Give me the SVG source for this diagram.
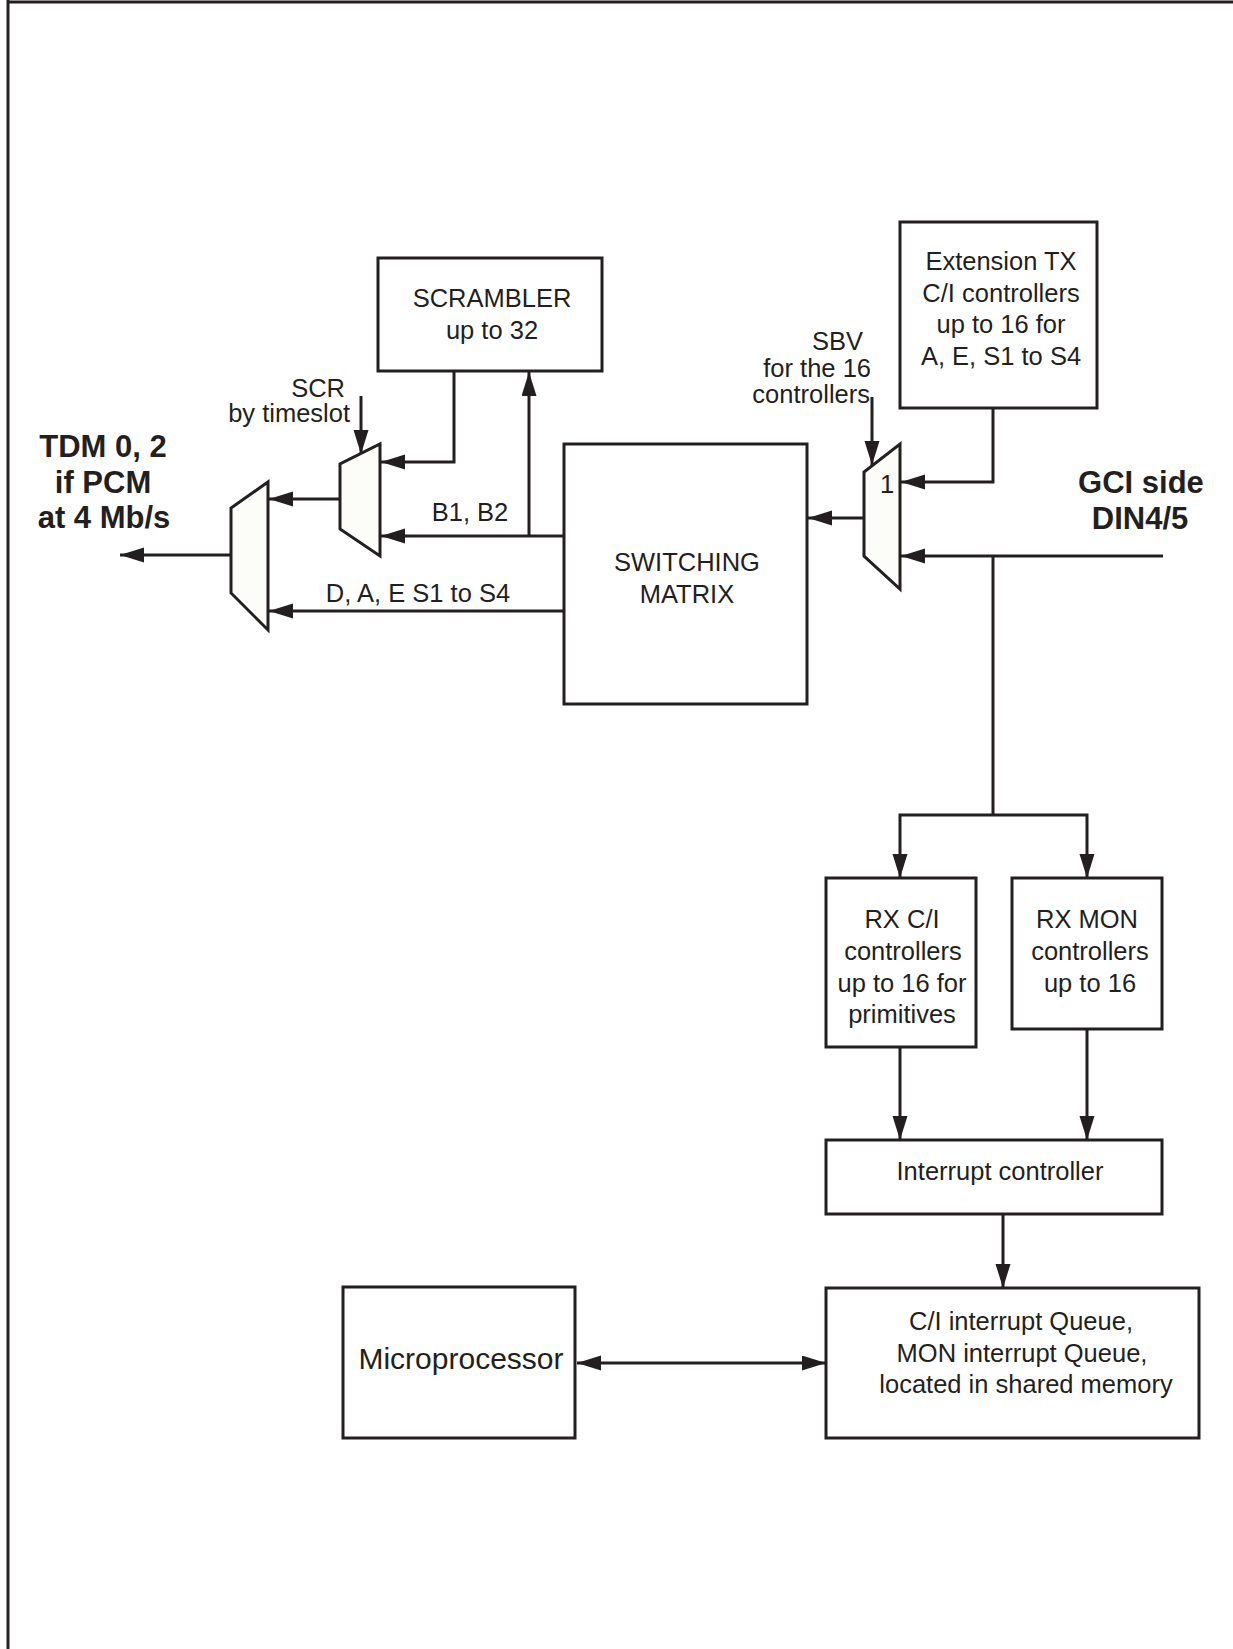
<svg xmlns="http://www.w3.org/2000/svg" width="1233" height="1649" viewBox="0 0 1233 1649">
<defs>
<style>
.box{fill:#fff;stroke:#231f20;stroke-width:3}
.mux{fill:#fcfcf9;stroke:#231f20;stroke-width:3;stroke-linejoin:miter}
.ln{fill:none;stroke:#231f20;stroke-width:3}
.ar{fill:none;stroke:#231f20;stroke-width:3;marker-end:url(#ah)}
.t{font-family:"Liberation Sans",Arial,sans-serif;font-size:25.5px;fill:#231f20;text-anchor:middle}
.b{font-family:"Liberation Sans",Arial,sans-serif;font-size:31px;font-weight:bold;fill:#231f20;text-anchor:middle}
</style>
<marker id="ah" markerUnits="userSpaceOnUse" markerWidth="26" markerHeight="16" refX="24" refY="7.5" orient="auto-start-reverse">
<path d="M0,0 L24,7.5 L0,15 z" fill="#231f20"/>
</marker>
</defs>
<rect width="1233" height="1649" fill="#fff"/>
<g id="frame">
<line class="ln" x1="8" y1="2" x2="1233" y2="2" stroke-width="3.5"/>
<line class="ln" x1="8" y1="0" x2="8" y2="1649" stroke-width="2.5"/>
</g>
<g id="connectors">
<line class="ar" x1="231" y1="555" x2="120" y2="555"/>
<line class="ar" x1="340" y1="499" x2="269" y2="499"/>
<polyline class="ar" points="454,371 454,462 381,462"/>
<line class="ar" x1="529" y1="536" x2="529" y2="372"/>
<line class="ar" x1="564" y1="536" x2="381" y2="536"/>
<line class="ar" x1="564" y1="611" x2="269" y2="611"/>
<line class="ar" x1="361" y1="396" x2="361" y2="454"/>
<line class="ar" x1="872" y1="397" x2="872" y2="465"/>
<polyline class="ar" points="993,408 993,482 901,482"/>
<line class="ar" x1="1163" y1="556" x2="901" y2="556"/>
<line class="ar" x1="864" y1="518" x2="808" y2="518"/>
<polyline class="ln" points="993,556 993,815"/>
<polyline class="ar" points="993,815 900,815 900,878"/>
<polyline class="ar" points="993,815 1087,815 1087,878"/>
<line class="ar" x1="900" y1="1047" x2="900" y2="1140"/>
<line class="ar" x1="1087" y1="1029" x2="1087" y2="1140"/>
<line class="ar" x1="1003" y1="1214" x2="1003" y2="1288"/>
<line class="ar" x1="577" y1="1363" x2="826" y2="1363" style="marker-start:url(#ah)"/>
</g>
<g id="mux-out">
<polygon class="mux" points="268,482 268,630 231,593 231,508"/>
</g>
<g id="mux-scr">
<polygon class="mux" points="380,444 380,556 340,529 340,464"/>
</g>
<g id="mux-gci">
<polygon class="mux" points="900,444 900,589 864,556 864,472"/>
<text class="t" x="887" y="493">1</text>
</g>
<g id="scrambler">
<rect class="box" x="378" y="258" width="224" height="113"/>
<text class="t" x="492" y="307">SCRAMBLER</text>
<text class="t" x="492" y="339">up to 32</text>
</g>
<g id="switching-matrix">
<rect class="box" x="564" y="444" width="243" height="260"/>
<text class="t" x="687" y="571">SWITCHING</text>
<text class="t" x="687" y="603">MATRIX</text>
</g>
<g id="ext-tx">
<rect class="box" x="900" y="222" width="197" height="186"/>
<text class="t" x="1001" y="270">Extension TX</text>
<text class="t" x="1001" y="302">C/I controllers</text>
<text class="t" x="1001" y="333">up to 16 for</text>
<text class="t" x="1001" y="365">A, E, S1 to S4</text>
</g>
<g id="rx-ci">
<rect class="box" x="826" y="878" width="150" height="169"/>
<text class="t" x="902" y="928">RX C/I</text>
<text class="t" x="903" y="960">controllers</text>
<text class="t" x="902" y="992">up to 16 for</text>
<text class="t" x="902" y="1023">primitives</text>
</g>
<g id="rx-mon">
<rect class="box" x="1012" y="878" width="150" height="151"/>
<text class="t" x="1087" y="928">RX MON</text>
<text class="t" x="1090" y="960">controllers</text>
<text class="t" x="1090" y="992">up to 16</text>
</g>
<g id="interrupt-controller">
<rect class="box" x="826" y="1140" width="336" height="74"/>
<text class="t" x="1000" y="1180">Interrupt controller</text>
</g>
<g id="queue">
<rect class="box" x="826" y="1288" width="373" height="150"/>
<text class="t" x="1021" y="1330">C/I interrupt Queue,</text>
<text class="t" x="1022" y="1362">MON interrupt Queue,</text>
<text class="t" x="1026" y="1393">located in shared memory</text>
</g>
<g id="microprocessor">
<rect class="box" x="343" y="1287" width="232" height="151"/>
<text class="t" x="461" y="1369" style="font-size:30px">Microprocessor</text>
</g>
<g id="labels">
<text class="t" x="345" y="397" style="text-anchor:end">SCR</text>
<text class="t" x="350" y="422" style="text-anchor:end">by timeslot</text>
<text class="t" x="470" y="521">B1, B2</text>
<text class="t" x="418" y="602">D, A, E S1 to S4</text>
<text class="t" x="863" y="350" style="text-anchor:end">SBV</text>
<text class="t" x="871" y="377" style="text-anchor:end">for the 16</text>
<text class="t" x="870" y="403" style="text-anchor:end">controllers</text>
<text class="b" x="103" y="457">TDM 0, 2</text>
<text class="b" x="103" y="493">if PCM</text>
<text class="b" x="104" y="528">at 4 Mb/s</text>
<text class="b" x="1141" y="493">GCI side</text>
<text class="b" x="1140" y="529">DIN4/5</text>
</g>
</svg>
